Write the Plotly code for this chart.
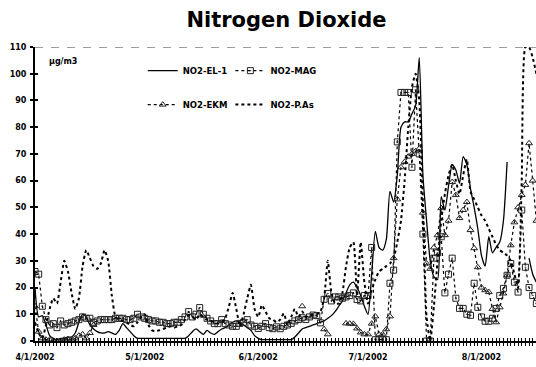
import plotly.graph_objects as go
from datetime import datetime, timedelta

# ---------------- data (daily, 1 Apr 2002 .. 16 Aug 2002) ----------------
start_date = datetime(2002, 4, 1)
n_days = 138
dates = [start_date + timedelta(days=i) for i in range(n_days)]

month_labels = {"2002-04-01": "4/1/2002", "2002-05-01": "5/1/2002",
                "2002-06-01": "6/1/2002", "2002-07-01": "7/1/2002",
                "2002-08-01": "8/1/2002"}

no2_el1 = [20, 9, 9.5, 6, 2, 1, 0.5, 1, 1, 1.5,
           1.5, 3, 7, 10, 9, 6, 4.5, 3.5, 3, 3,
           3.5, 3, 2.5, 4, 6.5, 5, 3.5, 2, 1, 1,
           1, 1, 1, 1, 1, 1, 1, 1, 1, 1,
           1, 1, 2, 3.5, 4.5, 3.5, 2.5, 4, 3, 2.5,
           3.5, 4.5, 5, 6, 7, 7.5, 7, 6, 5, 4,
           2, 1, 0.5, 0.5, 0.5, 0.5, 0.5, 0.5, 0.5, 0.5,
           0.5, 1.5, 3, 4.5, 5, 5.5, 6, 6.5, 7, 7.5,
           8.5, 9.5, 11, 13, 15, 18, 21, 22, 20, 17,
           13, 10, 25, 41, 35, 34, 38, 56, 52, 62,
           80, 82, 82, 85, 88, 106, 62, 45, 30, 24,
           23, 54, 49, 58, 66, 64, 59, 69, 66, 57,
           50, 42, 32, 28, 39, 33, 35, 37, 45, 67,
           None, None, None, None, None, 31, 25, 22]

no2_mag = [26, 25, 13, 8, 6, 6.5, 5, 7.5, 6, 6.5,
           7, 7.5, 8, 9, 8.5, 8.5, 7, 7.5, 8, 8,
           8, 8, 8.5, 8.5, 8.5, 8, 8, 8.5, 10, 9,
           8.5, 8, 7.5, 7.5, 7, 7, 6.5, 6.5, 7, 7,
           8, 9, 11, 9, 10, 12.5, 10, 8.5, 7.5, 6.5,
           6.5, 8, 6.5, 6, 5.5, 5.5, 6.6, 7, 8, 6,
           5.5, 4.7, 5.5, 6.5, 5, 4.6, 5.3, 4.6, 5.5, 6,
           6.6, 7.5, 8, 8.7, 8, 9, 9.7, 9.5, 6.8, 15.6,
           17.8, 15, 16.5, 16.5, 16, 16.5, 17, 18, 15.5, 15,
           17, 17, 35, 0.5, 0.5, 0.5, 0.5, 21.6, 26.5, 74.5,
           93, 93, 93, 65, 94, 70, 40, 0, 0, 31,
           33, 39, 18, 25, 31, 16, 12.2, 12.2, 10, 9.6,
           21.6, 12.6, 9, 7.4, 7.4, 8.5, 12.2, 17, 19.7, 24.6,
           29, 22, 18.3, 49, 27.6, 20, 17, 14]

no2_ekm = ([13, 3.5, 1, 0.5, 0.5, 0, 0, 0, 0.5, 0.5,
            0.5, 1, 2, 2.5, 1, 3, 6]
           + [None] * 56
           + [13, None, None, None, None, None, 4.4, 2.5, None, None, None, None]
           + [6.6, 6.5, 6.4, 4.7, 3.2, 2.5, 2.5, 6.5, 9.2, 2.5,
              2.5, 4.4, 9.2, 31, 53, 65, 67, 69, 70, 71,
              72, 48, 29, 27, 35, 39.6, 49.7, 39.6, 45, 59.5,
              54.6, 46, 49, 52, 41.5, 34.7, 27.6, 20, 19, 18.3,
              12, 7, 12.6, 17.8, 24.6, 35.8, 44.4, 50, 54.6, 58.4,
              74, 60, 45])

no2_pas = [7, 3, 1, 6, 12, 16, 14, 22, 30, 26,
           18, 12, 16, 28, 34, 31, 28, 27, 29, 34,
           30, 17, 9, 8, 7.5, 7, 6, 5.5, 7, 9,
           10, 6, 4, 3.7, 4, 4.5, 5, 5.5, 5, 5.5,
           6, 8, 9.6, 9, 8, 10, 9, 8, 7.5, 7,
           6.5, 7, 8.5, 13, 18, 12, 5.5, 10, 16, 21,
           12, 9, 13.4, 11, 8.5, 8, 7, 8, 10.3, 6,
           9, 12, 9, 11, 9, 9.5, 10, 10, 11, 16,
           30, 18, 14, 14, 18, 28, 35, 37, 17, 37,
           22, 14, 19, 23, 26, 27, 28, 29, 31, 37,
           45, 60, 80, 95, 100, 90, 52, 9, 0, 13,
           30, 45, 55, 62, 66, 60, 55, 62, 68, 56,
           53, 50, 47, 45, 42, 39, 36, 34, 33, 32,
           30, 25, 20, 60, 110, 110, 106, 100]

# ---------------- figure ----------------
FONT = "DejaVu Sans"
fig = go.Figure()

fig.add_trace(go.Scatter(x=dates, y=no2_el1, name="NO2-EL-1", mode="lines",
                         line=dict(color="black", width=1.3, shape="spline", smoothing=0.6),
                         legend="legend", legendgroup="a"))
fig.add_trace(go.Scatter(x=dates, y=no2_mag, name="NO2-MAG", mode="lines+markers",
                         line=dict(color="black", width=1.2, dash="dot"),
                         marker=dict(symbol="square-open-dot", size=6, color="#222",
                                     line=dict(width=1, color="#222")),
                         legend="legend2", legendgroup="c"))
fig.add_trace(go.Scatter(x=dates, y=no2_ekm, name="NO2-EKM", mode="lines+markers",
                         line=dict(color="black", width=1.2, dash="dot"),
                         marker=dict(symbol="triangle-up-open", size=6, color="#222",
                                     line=dict(width=1, color="#222")),
                         legend="legend", legendgroup="b"))
fig.add_trace(go.Scatter(x=dates, y=no2_pas, name="NO2-P.As", mode="lines",
                         line=dict(color="black", width=2, dash="3px,3px",
                                   shape="spline", smoothing=0.5),
                         legend="legend2", legendgroup="d"))
# empty helper traces so the overlay axes (crossing tick marks) are drawn
fig.add_trace(go.Scatter(x=[], y=[], xaxis="x2", yaxis="y", showlegend=False))
fig.add_trace(go.Scatter(x=[], y=[], xaxis="x", yaxis="y2", showlegend=False))

x_end = start_date + timedelta(days=136.9)
tick_text = [month_labels.get(d.strftime("%Y-%m-%d"), "") for d in dates]
tickfont = dict(family=FONT, size=8, color="black", weight="bold")

fig.update_layout(
    width=536, height=367,
    margin=dict(l=35, r=0, t=47, b=26),
    paper_bgcolor="white", plot_bgcolor="white",
    title=dict(text="Nitrogen Dioxide", x=0.5345, xanchor="center", xref="container",
               y=1 - 20 / 367, yanchor="middle", yref="container",
               font=dict(family=FONT, size=21, color="black", weight="bold")),
    xaxis=dict(type="date", range=[start_date, x_end], tickvals=dates, ticktext=tick_text,
               ticks="outside", ticklen=3, tickwidth=1, tickcolor="black",
               showline=True, linewidth=2, linecolor="black", showgrid=False,
               zeroline=False, tickfont=tickfont, ticklabelstandoff=4),
    xaxis2=dict(type="date", range=[start_date, x_end], overlaying="x", anchor="y",
                side="bottom", tickvals=dates, showticklabels=False, ticks="inside",
                ticklen=3, tickwidth=1, tickcolor="black", showline=False,
                showgrid=False, zeroline=False),
    yaxis=dict(range=[0, 110], tick0=0, dtick=10, ticks="outside", ticklen=3,
               tickwidth=1.5, tickcolor="black", showline=True, linewidth=2,
               linecolor="black", showgrid=False, zeroline=False, tickfont=tickfont,
               ticklabelstandoff=2),
    yaxis2=dict(range=[0, 110], overlaying="y", anchor="x", side="left", tick0=0,
                dtick=10, ticks="inside", ticklen=3, tickwidth=1.5, tickcolor="black",
                showticklabels=False, showline=False, showgrid=False, zeroline=False),
    legend=dict(x=0.215, y=0.969, xanchor="left", yanchor="top",
                font=dict(family=FONT, size=8.5, color="black", weight="bold"),
                bgcolor="rgba(0,0,0,0)", traceorder="grouped", tracegroupgap=15,
                itemwidth=30),
    legend2=dict(x=0.39, y=0.969, xanchor="left", yanchor="top",
                 font=dict(family=FONT, size=8.5, color="black", weight="bold"),
                 bgcolor="rgba(0,0,0,0)", traceorder="grouped", tracegroupgap=15,
                 itemwidth=30),
    shapes=[dict(type="line", xref="paper", x0=0, x1=1, yref="y", y0=110, y1=110,
                 line=dict(color="#7f7f7f", width=1.7, dash="8px,8px"))],
    annotations=[dict(text="<b>µg/m3</b>", x=0.024, y=0.952, xref="paper", yref="paper",
                      xanchor="left", yanchor="middle", showarrow=False,
                      font=dict(family=FONT, size=8, color="black"))],
)

fig.write_html("out.html")
